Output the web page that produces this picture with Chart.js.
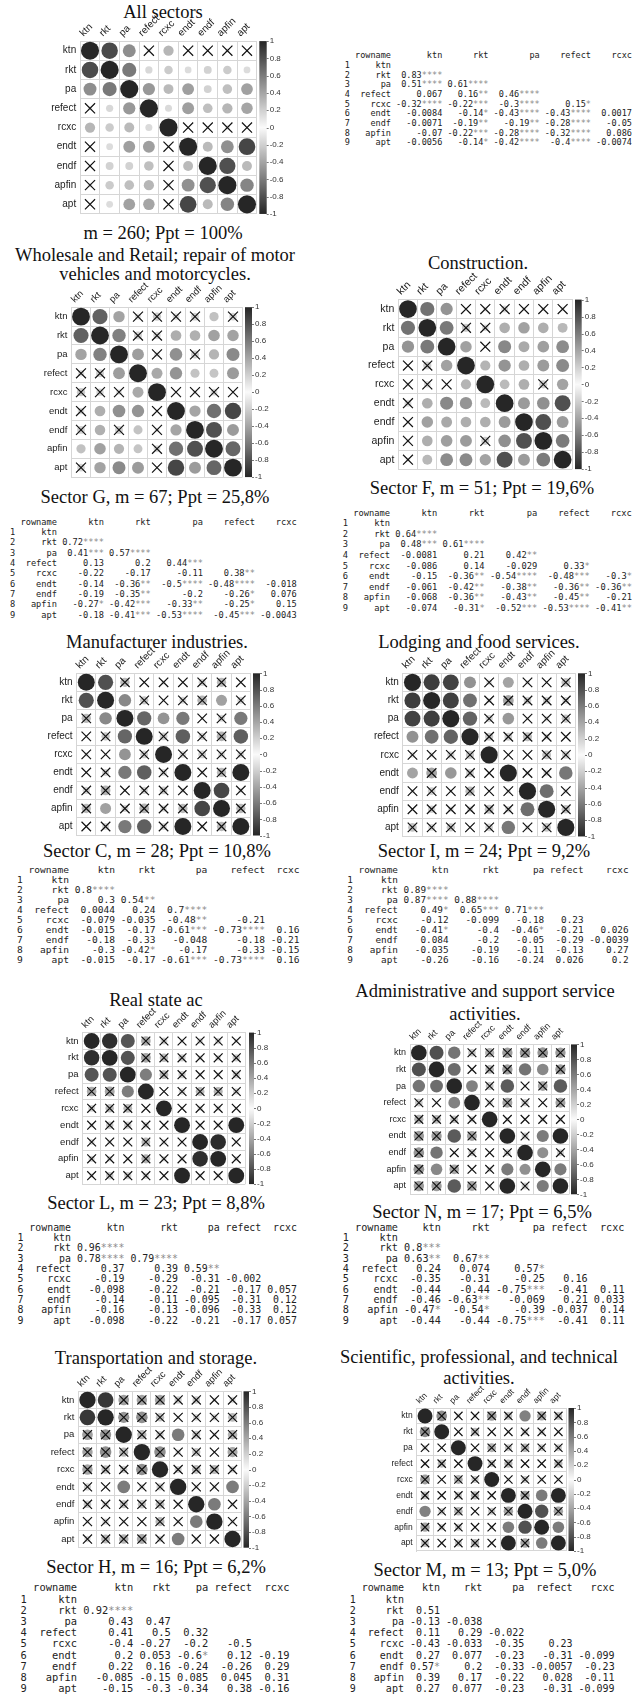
<!DOCTYPE html>
<html>
<head>
<meta charset="utf-8">
<title>Correlation matrices by sector</title>
<script src="https://cdn.jsdelivr.net/npm/chart.js@4.4.1/dist/chart.umd.min.js"></script>
<style>
  html, body { margin: 0; padding: 0; background: #fff; }
  body { position: relative; width: 644px; height: 1697px; overflow: hidden; }
  canvas { position: absolute; }
  .ttl { position: absolute; white-space: nowrap; transform: translate(-50%, -50%);
         font-family: "Liberation Serif", "Times New Roman", serif; font-size: 18.5px; line-height: 1; color: #111; }
  pre.tbl { position: absolute; margin: 0; font-family: "DejaVu Sans Mono", monospace; color: #222; }
  pre.tbl .st { color: #8a8a8a; }
</style>
</head>
<body>
<script>
const vars = ['ktn', 'rkt', 'pa', 'refect', 'rcxc', 'endt', 'endf', 'apfin', 'apt'];
const tableCols = vars.slice(0, 5);

// lower triangles: row k holds vars[k+1] against vars[0..k]
// r = correlation, s = number of significance stars
const rAll = [
  [0.83],
  [0.51, 0.61],
  [0.067, 0.16, 0.46],
  [-0.32, -0.22, -0.3, 0.15],
  [-0.0084, -0.14, -0.43, -0.43, 0.0017],
  [-0.0071, -0.19, -0.19, -0.28, -0.05, 0.3],
  [-0.07, -0.22, -0.28, -0.32, 0.086, 0.5, 0.8],
  [-0.0056, -0.14, -0.42, -0.4, -0.0074, 0.85, 0.3, 0.55]
];
const sAll = [[4], [4, 4], [0, 2, 4], [4, 3, 4, 1], [0, 1, 4, 4, 0], [0, 2, 2, 4, 0, 4], [0, 3, 4, 4, 0, 4, 4], [0, 1, 4, 4, 0, 4, 4, 4]];

const rG = [
  [0.72],
  [0.41, 0.57],
  [0.13, 0.2, 0.44],
  [-0.22, -0.17, -0.11, 0.38],
  [-0.14, -0.36, -0.5, -0.48, -0.018],
  [-0.19, -0.35, -0.2, -0.26, 0.076, 0.4],
  [-0.27, -0.42, -0.33, -0.25, 0.15, 0.65, 0.8],
  [-0.18, -0.41, -0.53, -0.45, -0.0043, 0.85, 0.45, 0.7]
];
const sG = [[4], [3, 4], [0, 0, 3], [0, 0, 0, 2], [0, 2, 4, 4, 0], [0, 2, 0, 1, 0, 4], [1, 3, 2, 1, 0, 4, 4], [0, 3, 4, 3, 0, 4, 4, 4]];

const rF = [
  [0.64],
  [0.48, 0.61],
  [-0.0081, 0.21, 0.42],
  [-0.086, 0.14, -0.029, 0.33],
  [-0.15, -0.36, -0.54, -0.48, -0.3],
  [-0.061, -0.42, -0.38, -0.36, -0.36, 0.45],
  [-0.068, -0.36, -0.43, -0.45, -0.21, 0.5, 0.8],
  [-0.074, -0.31, -0.52, -0.53, -0.41, 0.8, 0.45, 0.6]
];
const sF = [[4], [3, 4], [0, 0, 2], [0, 0, 0, 1], [0, 2, 4, 3, 1], [0, 2, 2, 2, 2, 4], [0, 2, 2, 2, 0, 4, 4], [0, 1, 3, 4, 2, 4, 4, 4]];

const rC = [
  [0.8],
  [0.3, 0.54],
  [0.0044, 0.24, 0.7],
  [-0.079, -0.035, -0.48, -0.21],
  [-0.015, -0.17, -0.61, -0.73, 0.16],
  [-0.18, -0.33, -0.048, -0.18, -0.21, -0.1],
  [-0.3, -0.42, -0.17, -0.33, -0.15, -0.3, 0.85],
  [-0.015, -0.17, -0.61, -0.73, 0.16, 1, -0.1, -0.3]
];
const sC = [[4], [0, 2], [0, 0, 4], [0, 0, 2, 0], [0, 0, 3, 4, 0], [0, 0, 0, 0, 0, 0], [0, 1, 0, 0, 0, 0, 4], [0, 0, 3, 4, 0, 4, 0, 0]];

const rI = [
  [0.89],
  [0.87, 0.88],
  [0.49, 0.65, 0.71],
  [-0.12, -0.099, -0.18, 0.23],
  [-0.41, -0.4, -0.46, -0.21, 0.026],
  [0.084, -0.2, -0.05, -0.29, -0.0039, -0.1],
  [-0.035, -0.19, -0.11, -0.13, 0.27, -0.15, 0.66],
  [-0.26, -0.16, -0.24, 0.026, 0.2, 0.62, 0.1, -0.25]
];
const sI = [[4], [4, 4], [1, 3, 3], [0, 0, 0, 0], [1, 0, 1, 0, 0], [0, 0, 0, 0, 0, 0], [0, 0, 0, 0, 0, 0, 3], [0, 0, 0, 0, 0, 3, 0, 0]];

const rL = [
  [0.96],
  [0.78, 0.79],
  [0.37, 0.39, 0.59],
  [-0.19, -0.29, -0.31, -0.002],
  [-0.098, -0.22, -0.21, -0.17, 0.057],
  [-0.14, -0.11, -0.095, -0.31, 0.12, -0.1],
  [-0.16, -0.13, -0.096, -0.33, 0.12, -0.12, 0.97],
  [-0.098, -0.22, -0.21, -0.17, 0.057, 1, -0.1, -0.12]
];
const sL = [[4], [4, 4], [0, 0, 2], [0, 0, 0, 0], [0, 0, 0, 0, 0], [0, 0, 0, 0, 0, 0], [0, 0, 0, 0, 0, 0, 4], [0, 0, 0, 0, 0, 4, 0, 0]];

const rN = [
  [0.8],
  [0.63, 0.67],
  [0.24, 0.074, 0.57],
  [-0.35, -0.31, -0.25, 0.16],
  [-0.44, -0.44, -0.75, -0.41, 0.11],
  [-0.46, -0.63, -0.069, 0.21, 0.033, -0.2],
  [-0.47, -0.54, -0.39, -0.037, 0.14, 0.6, 0.5],
  [-0.44, -0.44, -0.75, -0.41, 0.11, 1, -0.2, 0.6]
];
const sN = [[3], [2, 2], [0, 0, 1], [0, 0, 0, 0], [0, 0, 3, 0, 0], [0, 2, 0, 0, 0, 0], [1, 1, 0, 0, 0, 2, 1], [0, 0, 3, 0, 0, 4, 0, 2]];
const nsN = [['apfin', 'ktn']];   // crossed in the plot although starred in the table

const rH = [
  [0.92],
  [0.43, 0.47],
  [0.41, 0.5, 0.32],
  [-0.4, -0.27, -0.2, -0.5],
  [0.2, 0.053, -0.6, 0.12, -0.19],
  [0.22, 0.16, -0.24, -0.26, 0.29, 0.1],
  [-0.085, -0.15, 0.085, 0.045, 0.31, 0.1, 0.6],
  [-0.15, -0.3, -0.34, 0.38, -0.16, 0.6, -0.1, -0.1]
];
const sH = [[4], [0, 0], [0, 0, 0], [0, 0, 0, 0], [0, 0, 1, 0, 0], [0, 0, 0, 0, 0, 0], [0, 0, 0, 0, 0, 0, 1], [0, 0, 0, 0, 0, 1, 0, 0]];

const rM = [
  [0.51],
  [-0.13, -0.038],
  [0.11, 0.29, -0.022],
  [-0.43, -0.033, -0.35, 0.23],
  [0.27, 0.077, -0.23, -0.31, -0.099],
  [0.57, 0.2, -0.33, -0.0057, -0.23, 0.4],
  [0.39, 0.17, -0.22, 0.028, -0.11, 0.6, 0.8],
  [0.27, 0.077, -0.23, -0.31, -0.099, 1, 0.4, 0.6]
];
const sM = [[0], [0, 0], [0, 0, 0], [0, 0, 0, 0], [0, 0, 0, 0, 0], [1, 0, 0, 0, 0, 0], [0, 0, 0, 0, 0, 1, 2], [0, 0, 0, 0, 0, 4, 0, 1]];

const panels = [
  { title: ['All sectors'], tx: 163, ty: 12, caption: 'm = 260; Ppt = 100%', cx: 163, cy: 233,
    r: rAll, s: sAll, ns: [], grid: [80.2, 41.1, 256.8, 214.6], cb: [259.3, 266.7], fs: 10,
    table: { rnEnd: 391, end: 632, y: 56, lh: 9.7 } },
  { title: ['Wholesale and Retail; repair of motor', 'vehicles and motorcycles.'], tx: 155, ty: 255, gap: 18.5,
    caption: 'Sector G, m = 67; Ppt = 25,8%', cx: 155, cy: 497,
    r: rG, s: sG, ns: [], grid: [71.5, 307.2, 242.5, 477.8], cb: [245, 252], fs: 9.5,
    table: { rnEnd: 57, end: 297, y: 522, lh: 10.3 } },
  { title: ['Construction.'], tx: 478, ty: 263, caption: 'Sector F, m = 51; Ppt = 19,6%', cx: 482, cy: 488,
    r: rF, s: sF, ns: [], grid: [398.3, 299.6, 572.3, 469.5], cb: [575, 581.7], fs: 10.5,
    table: { rnEnd: 390, end: 632, y: 513, lh: 10.6 } },
  { title: ['Manufacturer industries.'], tx: 157, ty: 642, caption: 'Sector C, m = 28; Ppt = 10,8%', cx: 157, cy: 851,
    r: rC, s: sC, ns: [], grid: [76.6, 673.3, 250.5, 835.7], cb: [253, 260], fs: 10,
    table: { rnEnd: 69, end: 300, y: 870, lh: 10 } },
  { title: ['Lodging and food services.'], tx: 479, ty: 642, caption: 'Sector I, m = 24; Ppt = 9,2%', cx: 484, cy: 851,
    r: rI, s: sI, ns: [], grid: [402.9, 673.3, 575.4, 837], cb: [578, 585], fs: 10,
    table: { rnEnd: 398, end: 629, y: 870, lh: 10 } },
  { title: ['Real state ac'], tx: 156, ty: 1000, caption: 'Sector L, m = 23; Ppt = 8,8%', cx: 156, cy: 1203,
    r: rL, s: sL, ns: [], grid: [82.6, 1032.6, 245.3, 1184.1], cb: [249, 254], fs: 9.5,
    table: { rnEnd: 71, end: 297, y: 1228, lh: 10.3 } },
  { title: ['Administrative and support service', 'activities.'], tx: 485, ty: 991, gap: 23,
    caption: 'Sector N, m = 17; Ppt = 6,5%', cx: 482, cy: 1212,
    r: rN, s: sN, ns: nsN, grid: [410, 1044.4, 569.3, 1194.3], cb: [571, 577], fs: 9,
    table: { rnEnd: 398, end: 625, y: 1228, lh: 10.3 } },
  { title: ['Transportation and storage.'], tx: 156, ty: 1358, caption: 'Sector H, m = 16; Ppt = 6,2%', cx: 156, cy: 1567,
    r: rH, s: sH, ns: [], grid: [78.4, 1391.3, 241.6, 1547.7], cb: [243.5, 249], fs: 9.5,
    table: { rnEnd: 77, end: 290, y: 1588, lh: 11.2 } },
  { title: ['Scientific, professional, and technical', 'activities.'], tx: 479, ty: 1357, gap: 21,
    caption: 'Sector M, m = 13; Ppt = 5,0%', cx: 485, cy: 1570,
    r: rM, s: sM, ns: [], grid: [416.7, 1408, 566.7, 1551], cb: [568.5, 574], fs: 8.5,
    table: { rnEnd: 404, end: 615, y: 1588, lh: 11.2 } }
];

function shade(v) {
  const g = Math.round(250 - 212 * Math.abs(v));
  return 'rgb(' + g + ',' + g + ',' + g + ')';
}

function fullMatrix(low, diag) {
  const m = vars.map(() => vars.map(() => diag));
  low.forEach((row, k) => row.forEach((v, j) => { m[k + 1][j] = v; m[j][k + 1] = v; }));
  return m;
}

function addText(txt, x, y) {
  const d = document.createElement('div');
  d.className = 'ttl';
  d.textContent = txt;
  d.style.left = x + 'px';
  d.style.top = y + 'px';
  document.body.appendChild(d);
}

// printed like an R data.frame: right aligned, one space between columns
function addTable(p) {
  const t = p.table;
  const cells = vars.map((v, i) => tableCols.map((c, j) => j < i
    ? { num: String(p.r[i - 1][j]), st: '*'.repeat(p.s[i - 1][j]) }
    : { num: '', st: '' }));
  const w = tableCols.map((c, j) => Math.max(c.length, ...cells.map(row => row[j].num.length + row[j].st.length)));
  const rn = Math.max(7, ...vars.map(v => v.length));
  const head = '  ' + 'rowname'.padStart(rn) + tableCols.map((c, j) => ' ' + c.padStart(w[j])).join('');
  const lines = [head];
  vars.forEach((v, i) => {
    let line = (i + 1) + ' ' + v.padStart(rn);
    tableCols.forEach((c, j) => {
      const cell = cells[i][j];
      line += ' ' + ' '.repeat(w[j] - cell.num.length - cell.st.length) + cell.num +
        (cell.st ? '<span class="st">' + cell.st + '</span>' : '');
    });
    lines.push(line.replace(/\s+$/, ''));
  });
  const cw = (t.end - t.rnEnd) / (head.length - (rn + 2));
  const pre = document.createElement('pre');
  pre.className = 'tbl';
  pre.innerHTML = lines.join('\n');
  pre.style.fontSize = (cw / 0.6021).toFixed(2) + 'px';
  pre.style.lineHeight = t.lh + 'px';
  pre.style.left = (t.rnEnd - (rn + 2) * cw) + 'px';
  pre.style.top = (t.y - t.lh / 2) + 'px';
  document.body.appendChild(pre);
}

const colorbar = {
  id: 'colorbar',
  afterDraw(chart, args, opts) {
    const s = chart.scales.cb, ctx = chart.ctx;
    const g = ctx.createLinearGradient(0, s.top, 0, s.bottom);
    for (let k = 0; k <= 20; k++) g.addColorStop(k / 20, shade(1 - k / 10));
    ctx.save();
    ctx.fillStyle = g;
    ctx.fillRect(opts.x0, s.top, opts.x1 - opts.x0, s.bottom - s.top);
    ctx.strokeStyle = '#555';
    ctx.lineWidth = 0.8;
    ctx.beginPath();
    s.ticks.forEach(t => {
      const y = Math.round(s.getPixelForValue(t.value)) + 0.5;
      ctx.moveTo(opts.x1, y);
      ctx.lineTo(opts.x1 + 2, y);
    });
    ctx.stroke();
    ctx.restore();
  }
};

function drawPanel(p) {
  const [gl, gt, gr, gb] = p.grid;
  const x0 = Math.floor(Math.max(0, gl - 70)), y0 = Math.floor(gt - 38);
  const x1 = Math.ceil(Math.min(644, p.cb[1] + 24)), y1 = Math.ceil(gb + 8);
  const cell = Math.min(gr - gl, gb - gt) / vars.length;
  const cv = document.createElement('canvas');
  cv.width = x1 - x0;
  cv.height = y1 - y0;
  cv.style.left = x0 + 'px';
  cv.style.top = y0 + 'px';
  document.body.appendChild(cv);

  const R = fullMatrix(p.r, 1), S = fullMatrix(p.s, 4);
  const isNs = (a, b) => p.ns.some(q => (q[0] === a && q[1] === b) || (q[0] === b && q[1] === a));
  const circles = [], crosses = [];
  vars.forEach((rowName, i) => vars.forEach((colName, j) => {
    circles.push({ x: colName, y: rowName, v: R[i][j] });
    if (S[i][j] === 0 || isNs(rowName, colName)) crosses.push({ x: colName, y: rowName, v: R[i][j] });
  }));

  const labelFont = { family: '"Liberation Sans", Arial, sans-serif', size: p.fs };
  const gridOpts = { color: '#d6d6d6', lineWidth: 1, offset: true, drawTicks: false };

  new Chart(cv, {
    type: 'bubble',
    data: {
      datasets: [
        { label: 'not significant', data: crosses, order: 0, pointStyle: 'crossRot',
          radius: 0.37 * cell, hoverRadius: 0,
          borderColor: '#111', borderWidth: 1.2, backgroundColor: 'rgba(0,0,0,0)' },
        { label: 'r', data: circles, order: 1,
          radius: ctx => 0.47 * cell * Math.sqrt(Math.abs(ctx.raw.v)), hoverRadius: 0,
          borderWidth: 0, backgroundColor: ctx => shade(ctx.raw.v) }
      ]
    },
    options: {
      responsive: false,
      animation: false,
      devicePixelRatio: 1,
      events: [],
      layout: { padding: { left: 0, top: 0, right: 0, bottom: y1 - gb } },
      plugins: {
        legend: { display: false },
        tooltip: { enabled: false },
        colorbar: { x0: p.cb[0] - x0, x1: p.cb[1] - x0 }
      },
      scales: {
        x: {
          type: 'category', labels: vars, position: 'top', offset: true,
          grid: gridOpts, border: { color: '#d6d6d6' },
          ticks: { minRotation: 45, maxRotation: 45, autoSkip: false, padding: 2, color: '#222', font: labelFont },
          afterFit: s => { s.height = gt - y0; s.paddingLeft = 0; s.paddingRight = 0; }
        },
        y: {
          type: 'category', labels: vars, position: 'left', offset: true,
          grid: gridOpts, border: { color: '#d6d6d6' },
          ticks: { autoSkip: false, padding: 4, color: '#222', font: labelFont },
          afterFit: s => { s.width = gl - x0; s.paddingTop = 0; s.paddingBottom = 0; }
        },
        cb: {
          type: 'linear', position: 'right', min: -1, max: 1,
          grid: { display: false, drawTicks: false }, border: { display: false },
          ticks: { stepSize: 0.2, autoSkip: false, padding: p.cb[1] - gr + 3, color: '#333',
                   font: { family: '"Liberation Sans", Arial, sans-serif', size: 8 },
                   callback: v => String(Math.round(v * 10) / 10) },
          afterFit: s => { s.width = x1 - gr; s.paddingTop = 0; s.paddingBottom = 0; }
        }
      }
    },
    plugins: [colorbar]
  });
}

panels.forEach(p => {
  p.title.forEach((line, k) => addText(line, p.tx, p.ty + k * (p.gap || 0)));
  addText(p.caption, p.cx, p.cy);
  addTable(p);
  drawPanel(p);
});
</script>
</body>
</html>
